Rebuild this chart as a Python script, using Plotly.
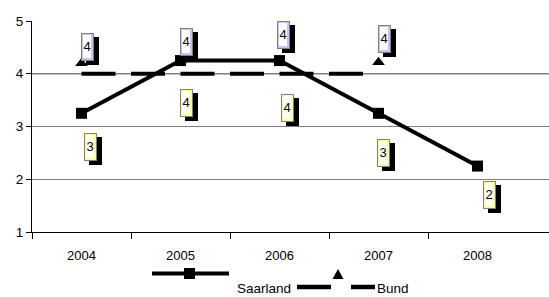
import plotly.graph_objects as go

# ---- data ----
years = ["2004", "2005", "2006", "2007", "2008"]
saarland = [3.25, 4.25, 4.25, 3.25, 2.25]
saarland_labels = ["3", "4", "4", "3", "2"]
bund_line = [4, 4, 4, 4]
bund_marker = [4.2, 4.25, 4.25, 4.22]
bund_labels = ["4", "4", "4", "4"]
y_ticks = [1, 2, 3, 4, 5]

# label placement (data y of label centre, pixel x offsets)
saar_label_y = [2.62, 3.45, 3.36, 2.50, 1.71]
saar_label_dx = [8.5, 5.5, 7.5, 4.5, 11.5]
bund_label_y = [4.51, 4.61, 4.74, 4.66]
bund_label_dx = [5.5, 5.5, 3.5, 5.5]

W, H = 549, 297
ML, MR, MT, MB = 32, 0, 21, 65
PW, PH = W - ML - MR, H - MT - MB
CAT_W = 99.0
FONT = "Arial, Liberation Sans, sans-serif"

xs = list(range(len(years)))

fig = go.Figure()
fig.add_trace(go.Scatter(x=xs[:len(bund_line)], y=bund_line, mode="lines",
                         line=dict(color="black", width=4, dash="34px,15.5px"),
                         hoverinfo="skip", showlegend=False))
fig.add_trace(go.Scatter(x=xs[:len(bund_marker)], y=bund_marker, mode="markers",
                         marker=dict(symbol="triangle-up", size=11, color="black"),
                         showlegend=False))
fig.add_trace(go.Scatter(x=xs, y=saarland, mode="lines+markers",
                         line=dict(color="black", width=4),
                         marker=dict(symbol="square", size=11, color="black"),
                         showlegend=False))

annotations = []


def label(x, y, dx, text, fill):
    # shadow
    annotations.append(dict(x=x, y=y, xref="x", yref="y", text="", showarrow=False,
                            width=13, height=28, bgcolor="black", borderwidth=0,
                            borderpad=0, xshift=dx + 5, yshift=-4,
                            xanchor="center", yanchor="middle"))
    # coloured frame
    annotations.append(dict(x=x, y=y, xref="x", yref="y", text="", showarrow=False,
                            width=11, height=26, bgcolor=fill, bordercolor="#808080",
                            borderwidth=1, borderpad=0, xshift=dx,
                            xanchor="center", yanchor="middle"))
    # inner white with text
    annotations.append(dict(x=x, y=y, xref="x", yref="y", text=text, showarrow=False,
                            width=8, height=23, bgcolor="white", borderwidth=0,
                            borderpad=0, xshift=dx,
                            font=dict(family=FONT, size=13, color="black"),
                            xanchor="center", yanchor="middle"))


for i, t in enumerate(bund_labels):
    label(xs[i], bund_label_y[i], bund_label_dx[i], t, "#c4c4f4")
for i, t in enumerate(saarland_labels):
    label(xs[i], saar_label_y[i], saar_label_dx[i], t, "#ffff9a")


def px(X):
    return (X - ML) / PW


def py(Y):
    return (H - MB - Y) / PH


shapes = [
    dict(type="line", xref="paper", yref="y", x0=0, x1=1, y0=4, y1=4,
         line=dict(color="black", width=1), layer="between"),
    # legend: Saarland
    dict(type="line", xref="paper", yref="paper", x0=px(152), x1=px(229),
         y0=py(273.5), y1=py(273.5), line=dict(color="black", width=4)),
    dict(type="rect", xref="paper", yref="paper", x0=px(184), x1=px(195),
         y0=py(279), y1=py(268), fillcolor="black", line=dict(width=0)),
    # legend: Bund
    dict(type="line", xref="paper", yref="paper", x0=px(297), x1=px(331),
         y0=py(287), y1=py(287), line=dict(color="black", width=4.5)),
    dict(type="line", xref="paper", yref="paper", x0=px(351), x1=px(375),
         y0=py(287), y1=py(287), line=dict(color="black", width=4.5)),
    dict(type="path", xref="paper", yref="paper",
         path=f"M {px(332.5)} {py(279)} L {px(343.5)} {py(279)} L {px(338)} {py(269)} Z",
         fillcolor="black", line=dict(width=0)),
]

annotations.append(dict(x=px(293), y=py(288), xref="paper", yref="paper", text="Saarland",
                        showarrow=False, xanchor="right", yanchor="middle",
                        font=dict(family=FONT, size=13.5, color="black")))
annotations.append(dict(x=px(375), y=py(288), xref="paper", yref="paper", text="Bund",
                        showarrow=False, xanchor="left", yanchor="middle",
                        font=dict(family=FONT, size=13.5, color="black")))

fig.update_layout(
    width=W, height=H, autosize=False,
    margin=dict(l=ML, r=MR, t=MT, b=MB, pad=0),
    paper_bgcolor="white", plot_bgcolor="white",
    font=dict(family=FONT, size=13, color="black"),
    showlegend=False,
    shapes=shapes, annotations=annotations,
    xaxis=dict(range=[-0.5, -0.5 + PW / CAT_W], tickmode="array", tickvals=xs,
               ticktext=years, ticks="", showgrid=False, zeroline=False,
               showline=True, linecolor="black", linewidth=1,
               tickfont=dict(family=FONT, size=13, color="black"),
               ticklabelstandoff=11,
               minor=dict(tickmode="array", tickvals=[x - 0.5 for x in xs],
                          ticks="outside", ticklen=6, tickcolor="black",
                          tickwidth=1, showgrid=False)),
    yaxis=dict(range=[1, 5], tickmode="array", tickvals=y_ticks,
               ticks="outside", ticklen=5, tickcolor="black", tickwidth=1,
               showline=True, linecolor="black", linewidth=1,
               showgrid=True, gridcolor="#808080", gridwidth=1.4, zeroline=False,
               tickfont=dict(family=FONT, size=13.5, color="black")),
)

fig.write_html("out.html", config={"displayModeBar": False},
               post_script="document.body.style.margin='0';document.body.style.overflow='hidden';")
